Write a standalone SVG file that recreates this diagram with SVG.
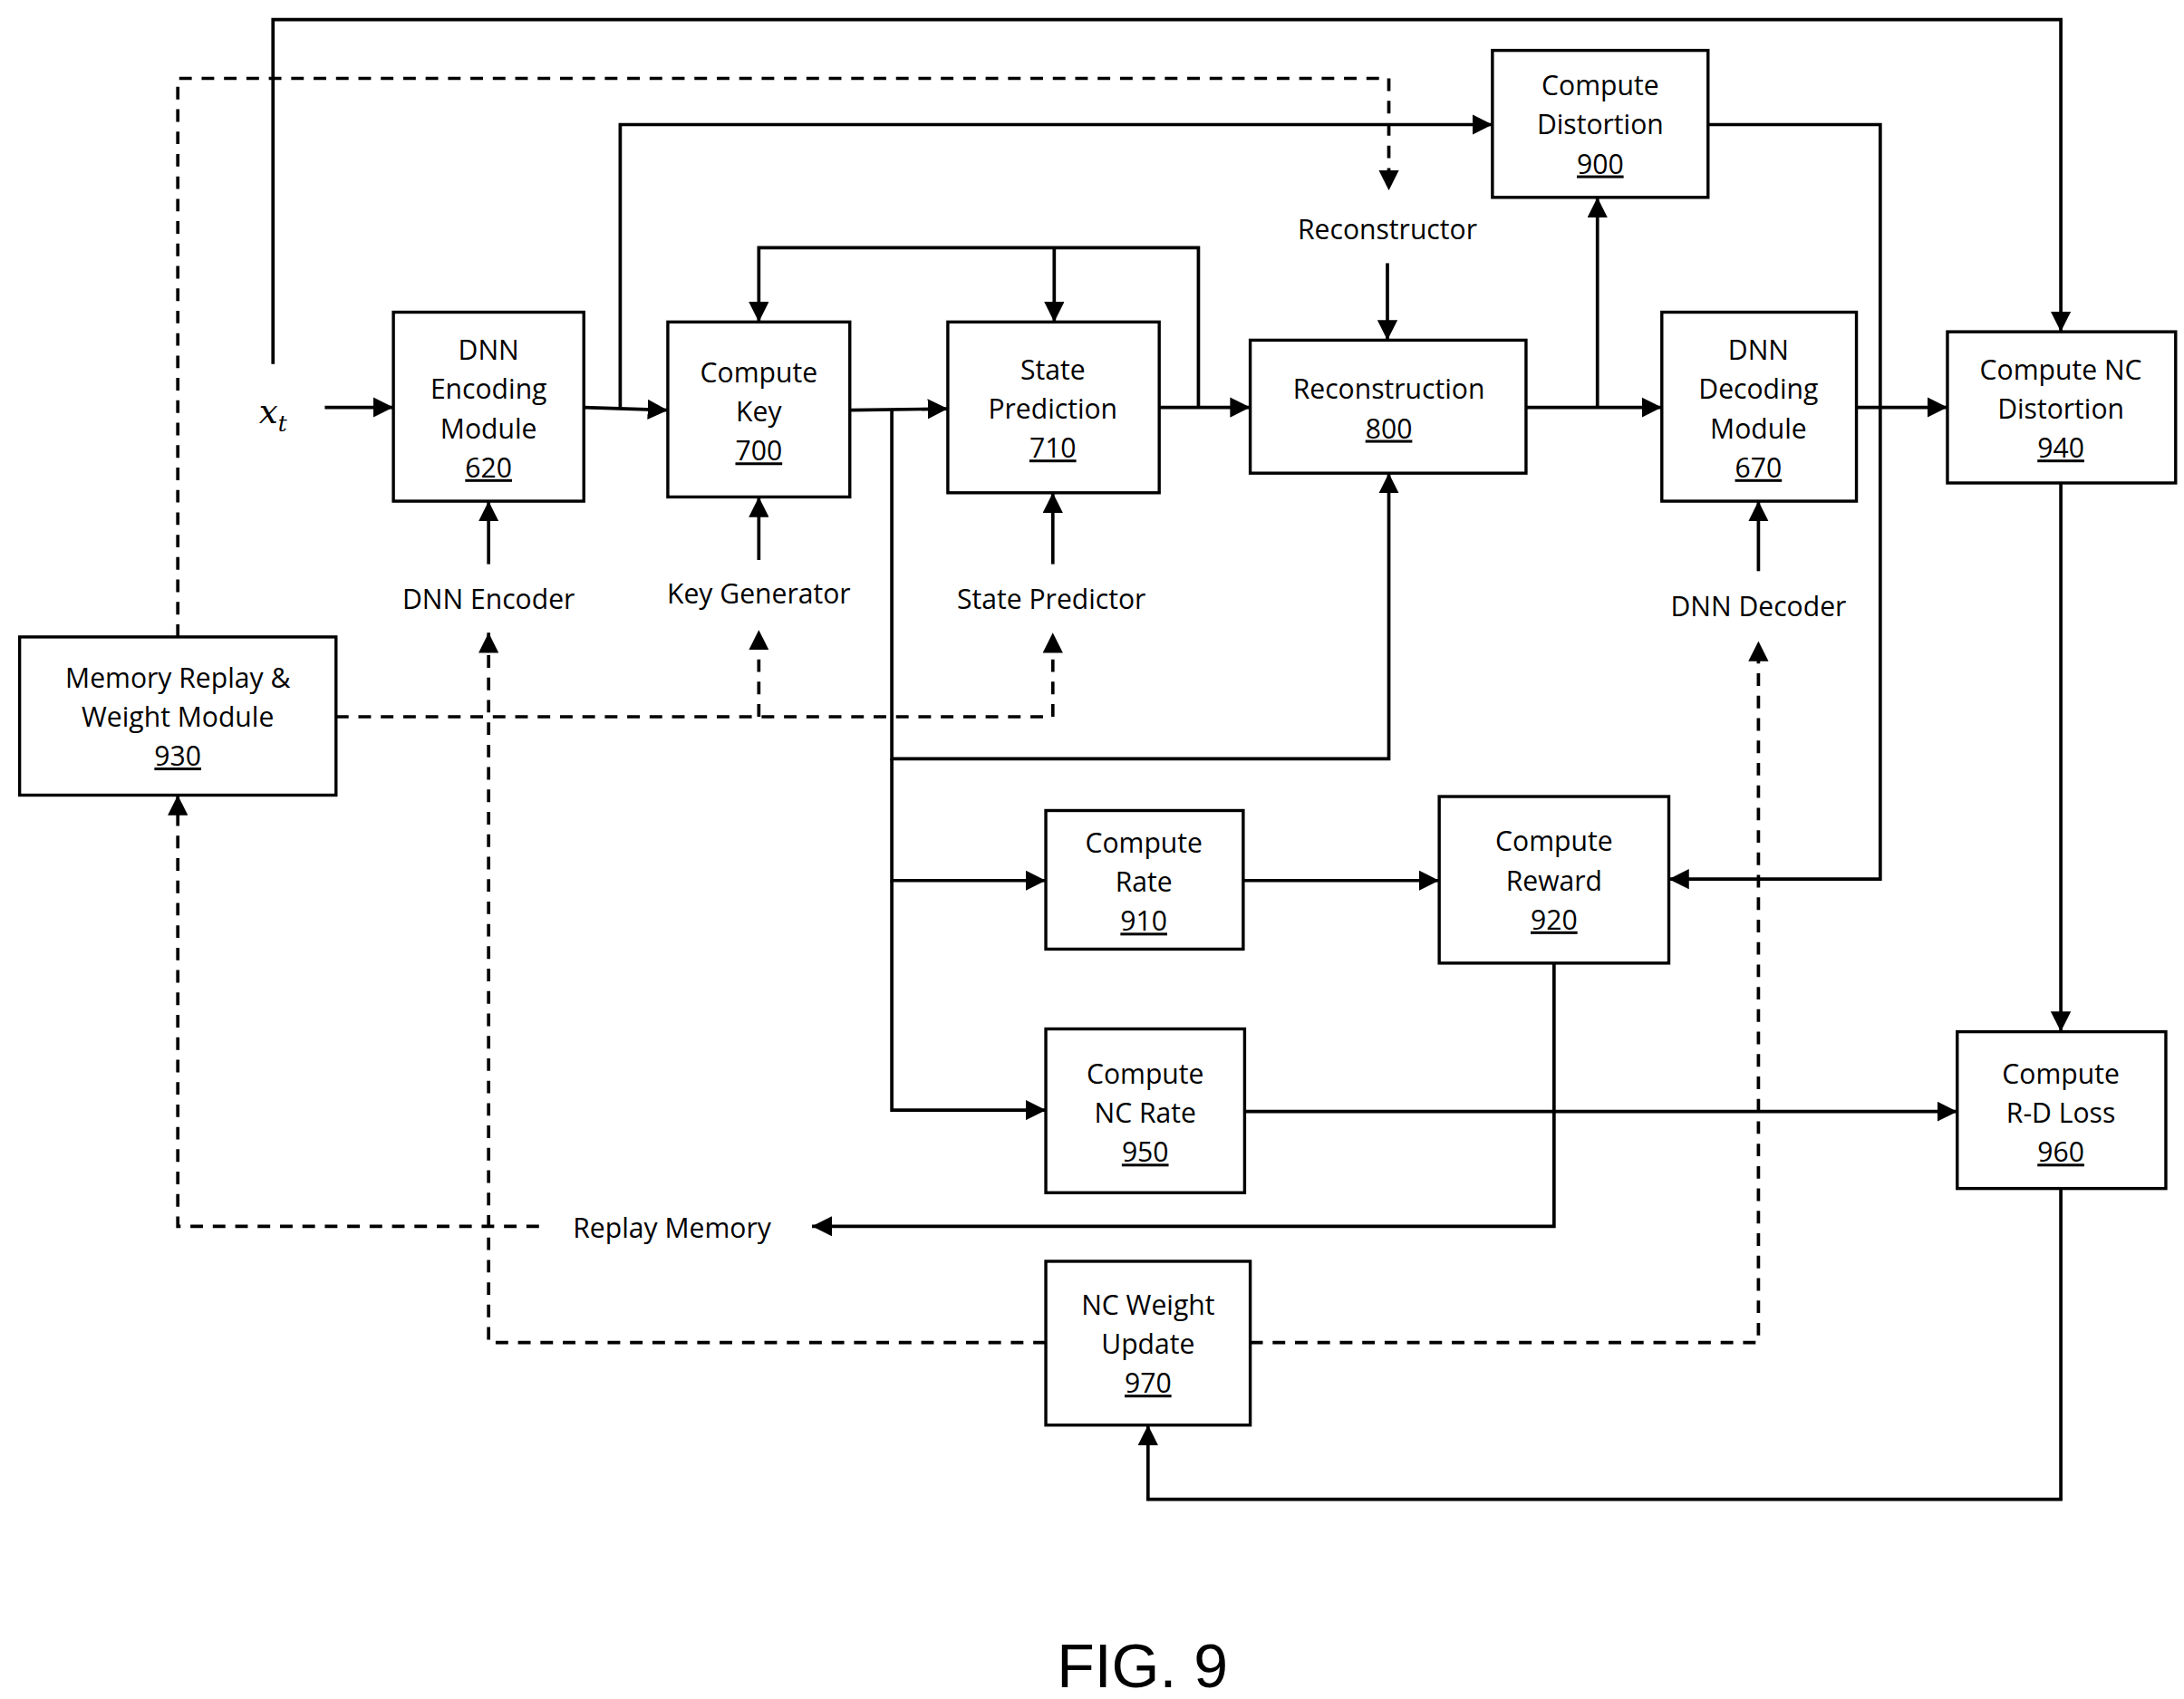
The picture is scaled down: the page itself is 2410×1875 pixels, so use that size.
<svg xmlns="http://www.w3.org/2000/svg" width="2410" height="1875" viewBox="0 0 2410 1875">
<style>
.b{fill:#fff;stroke:#000;stroke-width:2.2}
.t{font-family:"Open Sans","Liberation Sans",sans-serif;font-size:19.5px;text-anchor:middle;fill:#000}
.u{text-decoration:underline}
.c{fill:none;stroke:#000;stroke-width:2.4}
.d{stroke-dasharray:9 7}
</style>
<defs><marker id="a" viewBox="0 0 10 10" refX="10" refY="5" markerWidth="7" markerHeight="7" markerUnits="userSpaceOnUse" orient="auto"><path d="M0,0L10,5L0,10z"/></marker>
<marker id="m" viewBox="0 0 10 10" refX="10" refY="5" markerWidth="6" markerHeight="6" orient="auto"><path d="M0,0L10,5L0,10z"/></marker></defs>
<rect width="2410" height="1875" fill="#fff"/>
<g transform="scale(1.5449)">
<g id="connectors">
<g marker-end="url(#m)" class="c">
<path d="M195,260V14H1472V237"/>
<path d="M232,291H281"/>
<path d="M417,291L477,293"/>
<path d="M443,291V89H1066"/>
<path d="M607,293L677,292"/>
<path d="M637,293V542H992V338"/>
<path d="M637,542V629H747"/>
<path d="M637,629V793H747"/>
<path d="M828,291H893"/>
<path d="M856,291V177H542V230"/>
<path d="M753,177V230"/>
<path d="M1090,291H1187"/>
<path d="M1141,291V141"/>
<path d="M1326,291H1391"/>
<path d="M1220,89H1343V628H1192"/>
<path d="M1472,345V737"/>
<path d="M888,629H1028"/>
<path d="M889,794H1398"/>
<path d="M1110,688V876H580"/>
<path d="M1472,849V1071H820V1018"/>
<path d="M349,403V358"/>
<path d="M542,400V355"/>
<path d="M752,403V352"/>
<path d="M991,188V243"/>
<path d="M1256,408V358"/>
</g>
<g marker-end="url(#m)" class="c d">
<path d="M127,455V56H992V136"/>
<path d="M240,512H752V452"/>
<path d="M542,512V450"/>
<path d="M385,876H127V568"/>
<path d="M747,959H349V452"/>
<path d="M893,959H1256V458"/>
</g>
</g>
<g id="n930"><rect class="b" x="14" y="455" width="226" height="113"/><text class="t" x="127" y="491">Memory Replay &amp;</text><text class="t" x="127" y="519">Weight Module</text><text class="t u" x="127" y="547">930</text></g>
<g id="n620"><rect class="b" x="281" y="223" width="136" height="135"/><text class="t" x="349" y="257">DNN</text><text class="t" x="349" y="285">Encoding</text><text class="t" x="349" y="313">Module</text><text class="t u" x="349" y="341">620</text></g>
<g id="n700"><rect class="b" x="477" y="230" width="130" height="125"/><text class="t" x="542" y="273">Compute</text><text class="t" x="542" y="301">Key</text><text class="t u" x="542" y="329">700</text></g>
<g id="n710"><rect class="b" x="677" y="230" width="151" height="122"/><text class="t" x="752" y="271">State</text><text class="t" x="752" y="299">Prediction</text><text class="t u" x="752" y="327">710</text></g>
<g id="n800"><rect class="b" x="893" y="243" width="197" height="95"/><text class="t" x="992" y="285">Reconstruction</text><text class="t u" x="992" y="313">800</text></g>
<g id="n900"><rect class="b" x="1066" y="36" width="154" height="105"/><text class="t" x="1143" y="68">Compute</text><text class="t" x="1143" y="96">Distortion</text><text class="t u" x="1143" y="124">900</text></g>
<g id="n670"><rect class="b" x="1187" y="223" width="139" height="135"/><text class="t" x="1256" y="257">DNN</text><text class="t" x="1256" y="285">Decoding</text><text class="t" x="1256" y="313">Module</text><text class="t u" x="1256" y="341">670</text></g>
<g id="n940"><rect class="b" x="1391" y="237" width="163" height="108"/><text class="t" x="1472" y="271">Compute NC</text><text class="t" x="1472" y="299">Distortion</text><text class="t u" x="1472" y="327">940</text></g>
<g id="n910"><rect class="b" x="747" y="579" width="141" height="99"/><text class="t" x="817" y="609">Compute</text><text class="t" x="817" y="637">Rate</text><text class="t u" x="817" y="665">910</text></g>
<g id="n920"><rect class="b" x="1028" y="569" width="164" height="119"/><text class="t" x="1110" y="608">Compute</text><text class="t" x="1110" y="636">Reward</text><text class="t u" x="1110" y="664">920</text></g>
<g id="n950"><rect class="b" x="747" y="735" width="142" height="117"/><text class="t" x="818" y="774">Compute</text><text class="t" x="818" y="802">NC Rate</text><text class="t u" x="818" y="830">950</text></g>
<g id="n960"><rect class="b" x="1398" y="737" width="149" height="112"/><text class="t" x="1472" y="774">Compute</text><text class="t" x="1472" y="802">R-D Loss</text><text class="t u" x="1472" y="830">960</text></g>
<g id="n970"><rect class="b" x="747" y="901" width="146" height="117"/><text class="t" x="820" y="939">NC Weight</text><text class="t" x="820" y="967">Update</text><text class="t u" x="820" y="995">970</text></g>
<g id="labels">
<text x="195" y="302" style="font-family:'DejaVu Serif',serif;font-style:italic;font-size:24px;text-anchor:middle">x<tspan font-size="16" dy="6">t</tspan></text>
<text class="t" x="349" y="435">DNN Encoder</text>
<text class="t" x="542" y="431">Key Generator</text>
<text class="t" x="751" y="435">State Predictor</text>
<text class="t" x="991" y="171">Reconstructor</text>
<text class="t" x="1256" y="440">DNN Decoder</text>
<text class="t" x="480" y="884">Replay Memory</text>
<text x="816" y="1205" style="font-family:'Liberation Sans',sans-serif;font-size:44px;text-anchor:middle">FIG. 9</text>
</g>
</g>
</svg>
